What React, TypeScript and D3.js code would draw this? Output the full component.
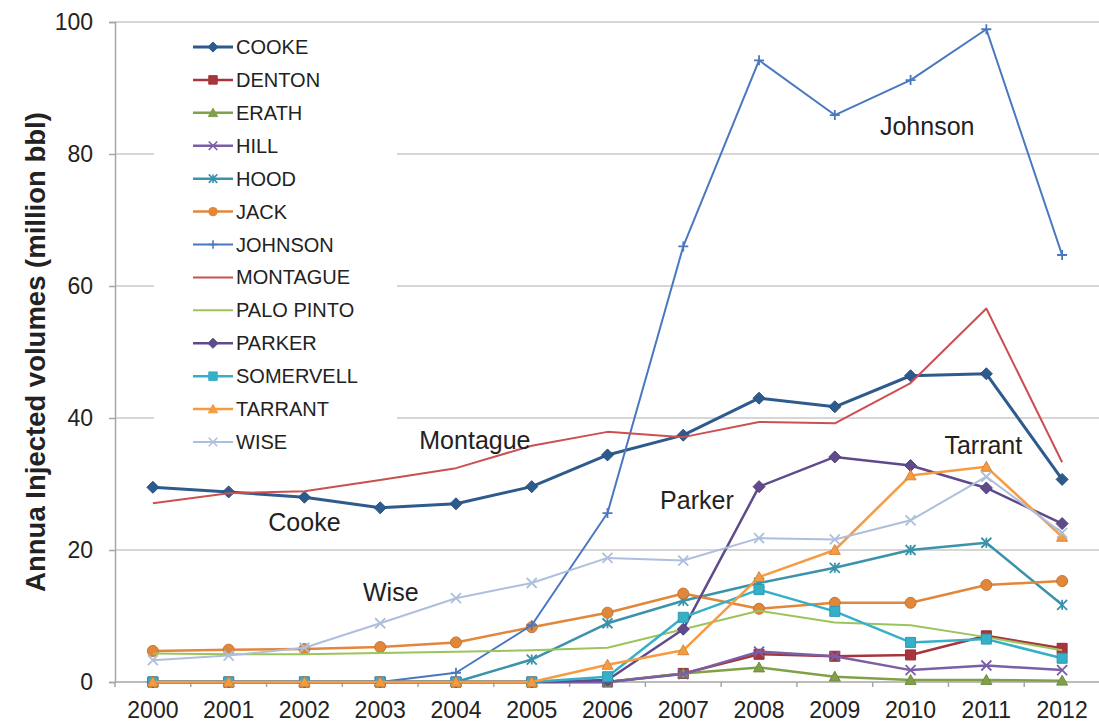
import { useEffect, useRef } from "react";
import * as d3 from "d3";

const years = ["2000", "2001", "2002", "2003", "2004", "2005", "2006", "2007", "2008", "2009", "2010", "2011", "2012"];

const cooke = [29.5, 28.8, 28.0, 26.4, 27.0, 29.6, 34.4, 37.4, 43.0, 41.7, 46.4, 46.7, 30.7];
const denton = [0, 0, 0, 0, 0, 0, 0, 1.3, 4.2, 3.9, 4.1, 7.0, 5.1];
const erath = [0, 0, 0, 0, 0, 0, 0, 1.3, 2.2, 0.8, 0.3, 0.3, 0.2];
const hill = [0, 0, 0, 0, 0, 0, 0, 1.2, 4.6, 3.9, 1.8, 2.5, 1.8];
const hood = [0, 0, 0, 0, 0, 3.4, 8.9, 12.3, 15.0, 17.3, 20.0, 21.1, 11.7];
const jack = [4.7, 4.9, 5.0, 5.3, 6.0, 8.3, 10.5, 13.4, 11.1, 12.0, 12.0, 14.7, 15.3];
const johnson = [0, 0, 0, 0, 1.4, 8.6, 25.6, 66.0, 94.2, 85.9, 91.2, 98.9, 64.7];
const montague = [27.1, 28.6, 28.9, 30.6, 32.4, 35.8, 37.9, 37.1, 39.4, 39.2, 45.3, 56.6, 33.3];
const paloPinto = [4.3, 4.2, 4.2, 4.4, 4.6, 4.8, 5.2, 8.0, 10.8, 9.0, 8.6, 6.8, 4.8];
const parker = [0, 0, 0, 0, 0, 0, 0.3, 8.0, 29.6, 34.1, 32.8, 29.4, 24.0];
const somervell = [0, 0, 0, 0, 0, 0, 0.8, 9.8, 14.0, 10.7, 6.0, 6.5, 3.6];
const tarrant = [0, 0, 0, 0, 0, 0, 2.6, 4.8, 15.9, 20.0, 31.3, 32.6, 22.0];
const wise = [3.3, 4.0, 5.2, 8.9, 12.7, 15.0, 18.8, 18.4, 21.8, 21.6, 24.5, 31.1, 22.6];

const yTicks = [0, 20, 40, 60, 80, 100];

// text callouts placed in data space (category index, value)
const callouts = [
  { text: "Johnson", at: 10.22, value: 84.2 },
  { text: "Montague", at: 4.25, value: 36.7 },
  { text: "Cooke", at: 2.0, value: 24.2 },
  { text: "Wise", at: 3.14, value: 13.6 },
  { text: "Parker", at: 7.18, value: 27.6 },
  { text: "Tarrant", at: 10.96, value: 35.9 },
];

type Marker = "diamond" | "square" | "triangle" | "x" | "star" | "circle" | "plus" | "none";

const series: { name: string; values: number[]; color: string; marker: Marker; width: number }[] = [
  { name: "COOKE", values: cooke, color: "#2e5b8d", marker: "diamond", width: 3 },
  { name: "DENTON", values: denton, color: "#a8353c", marker: "square", width: 2.5 },
  { name: "ERATH", values: erath, color: "#80a04a", marker: "triangle", width: 2.5 },
  { name: "HILL", values: hill, color: "#7a5ea6", marker: "x", width: 2.5 },
  { name: "HOOD", values: hood, color: "#3a93aa", marker: "star", width: 2.5 },
  { name: "JACK", values: jack, color: "#e2873a", marker: "circle", width: 2.5 },
  { name: "JOHNSON", values: johnson, color: "#4a78c0", marker: "plus", width: 2 },
  { name: "MONTAGUE", values: montague, color: "#cc4f52", marker: "none", width: 2 },
  { name: "PALO PINTO", values: paloPinto, color: "#9cc45c", marker: "none", width: 2 },
  { name: "PARKER", values: parker, color: "#5f4b8b", marker: "diamond", width: 2.5 },
  { name: "SOMERVELL", values: somervell, color: "#36b0c8", marker: "square", width: 2.5 },
  { name: "TARRANT", values: tarrant, color: "#f79b42", marker: "triangle", width: 2.5 },
  { name: "WISE", values: wise, color: "#aebfdd", marker: "x", width: 2 },
];

const FONT = "'Liberation Sans', Arial, sans-serif";

function markerPath(m: Marker, r: number) {
  switch (m) {
    case "diamond":
      return `M0,${-r}L${r},0L0,${r}L${-r},0Z`;
    case "square":
      return `M${-r},${-r}H${r}V${r}H${-r}Z`;
    case "triangle":
      return `M0,${-r}L${r},${r * 0.8}L${-r},${r * 0.8}Z`;
    case "x":
      return `M${-r},${-r}L${r},${r}M${-r},${r}L${r},${-r}`;
    case "star":
      return `M${-r},${-r}L${r},${r}M${-r},${r}L${r},${-r}M0,${-r}V${r}`;
    case "plus":
      return `M${-r},0H${r}M0,${-r}V${r}`;
    default:
      return "";
  }
}

const markerSize: Record<Marker, number> = {
  diamond: 6, square: 5, triangle: 5.5, x: 5, star: 5, circle: 5.5, plus: 5, none: 0,
};

export default function App() {
  const svgRef = useRef<SVGSVGElement>(null);

  useEffect(() => {
    if (!svgRef.current) return;
    const width = 1099;
    const height = 726;
    const margin = { top: 22, right: -1, bottom: 44, left: 115 };

    const root = d3.select(svgRef.current);
    root.selectAll("*").remove();
    root.attr("width", width).attr("height", height);

    root.append("rect").attr("width", width).attr("height", height).attr("fill", "#fff");

    const x = d3.scaleBand().domain(years).range([margin.left, width - margin.right]);
    const y = d3.scaleLinear().domain([0, 100]).range([height - margin.bottom, margin.top]);
    const xIdx = d3.scaleLinear().domain([0, years.length - 1])
      .range([x(years[0])! + x.bandwidth() / 2, x(years[years.length - 1])! + x.bandwidth() / 2]);
    const cx = (i: number) => xIdx(i);

    // gridlines
    root.append("g").selectAll("line").data(yTicks.filter(t => t > 0)).join("line")
      .attr("x1", margin.left).attr("x2", width - margin.right)
      .attr("y1", d => y(d)).attr("y2", d => y(d))
      .attr("stroke", "#c9c9c9").attr("stroke-width", 1.5);

    // y axis
    const yAxis = root.append("g").attr("transform", `translate(${margin.left},0)`)
      .call(d3.axisLeft(y).tickValues(yTicks).tickSize(6).tickPadding(16));
    yAxis.select(".domain").attr("stroke", "#a6a6a6").attr("stroke-width", 1.5);
    yAxis.selectAll(".tick line").attr("stroke", "#a6a6a6").attr("stroke-width", 1.5);
    yAxis.selectAll(".tick text").attr("font-family", FONT).attr("font-size", 23).attr("fill", "#222");

    // x axis: ticks between categories
    const xAxisG = root.append("g");
    xAxisG.append("line")
      .attr("x1", margin.left).attr("x2", width - margin.right)
      .attr("y1", y(0)).attr("y2", y(0))
      .attr("stroke", "#a6a6a6").attr("stroke-width", 1.5);
    xAxisG.selectAll("line.tk").data(years).join("line").attr("class", "tk")
      .attr("x1", d => x(d)!).attr("x2", d => x(d)!)
      .attr("y1", y(0)).attr("y2", y(0) + 5)
      .attr("stroke", "#a6a6a6").attr("stroke-width", 1.5);
    xAxisG.selectAll("text").data(years).join("text")
      .attr("x", d => x(d)! + x.bandwidth() / 2)
      .attr("y", y(0) + 36)
      .attr("text-anchor", "middle")
      .attr("font-family", FONT).attr("font-size", 23).attr("fill", "#222")
      .text(d => d);

    // y title
    root.append("text")
      .attr("transform", `translate(35,${(y(0) + y(100)) / 2}) rotate(-90)`)
      .attr("text-anchor", "middle").attr("dominant-baseline", "central")
      .attr("font-family", FONT).attr("font-size", 27.5).attr("font-weight", "bold").attr("fill", "#222")
      .text("Annua Injected volumes (million bbl)");

    // series
    const plot = root.append("g");
    series.forEach(s => {
      const line = d3.line<number>()
        .x((_, i) => cx(i))
        .y(d => y(d));
      const g = plot.append("g");
      g.append("path").attr("d", line(s.values)).attr("fill", "none")
        .attr("stroke", s.color).attr("stroke-width", s.width).attr("stroke-linejoin", "round");
      if (s.marker === "none") return;
      const r = markerSize[s.marker];
      const open = s.marker === "x" || s.marker === "star" || s.marker === "plus";
      if (s.marker === "circle") {
        g.selectAll("circle").data(s.values).join("circle")
          .attr("cx", (_, i) => cx(i)).attr("cy", d => y(d)).attr("r", r)
          .attr("fill", s.color).attr("stroke", d3.color(s.color)!.darker(0.4).toString()).attr("stroke-width", 1);
      } else {
        g.selectAll("path.m").data(s.values).join("path").attr("class", "m")
          .attr("transform", (d, i) => `translate(${cx(i)},${y(d)})`)
          .attr("d", markerPath(s.marker, r))
          .attr("fill", open ? "none" : s.color)
          .attr("stroke", open ? s.color : d3.color(s.color)!.darker(0.4).toString())
          .attr("stroke-width", open ? 1.8 : 1);
      }
    });

    // callouts
    root.append("g").selectAll("text").data(callouts).join("text")
      .attr("x", d => cx(d.at)).attr("y", d => y(d.value))
      .attr("text-anchor", "middle").attr("dominant-baseline", "central")
      .attr("font-family", FONT).attr("font-size", 25).attr("fill", "#222")
      .text(d => d.text);

    // legend
    const leg = root.append("g");
    leg.append("rect").attr("x", 154).attr("y", 26).attr("width", 243).attr("height", 438).attr("fill", "#fff");
    const rowY = d3.scalePoint<string>().domain(series.map(s => s.name)).range([47, 442]);
    series.forEach(s => {
      const yy = rowY(s.name)!;
      const item = leg.append("g").attr("transform", `translate(0,${yy})`);
      item.append("line").attr("x1", 193).attr("x2", 233).attr("y1", 0).attr("y2", 0)
        .attr("stroke", s.color).attr("stroke-width", s.width);
      if (s.marker !== "none") {
        const r = markerSize[s.marker] * 0.85;
        const open = s.marker === "x" || s.marker === "star" || s.marker === "plus";
        if (s.marker === "circle") {
          item.append("circle").attr("cx", 213).attr("cy", 0).attr("r", r).attr("fill", s.color);
        } else {
          item.append("path").attr("transform", "translate(213,0)").attr("d", markerPath(s.marker, r))
            .attr("fill", open ? "none" : s.color).attr("stroke", s.color).attr("stroke-width", open ? 1.6 : 1);
        }
      }
      item.append("text").attr("x", 236).attr("y", 0).attr("dominant-baseline", "central")
        .attr("font-family", FONT).attr("font-size", 20).attr("fill", "#222")
        .text(s.name);
    });
  }, []);

  return <svg ref={svgRef} style={{ position: "absolute", left: 0, top: 0, display: "block" }} />;
}
